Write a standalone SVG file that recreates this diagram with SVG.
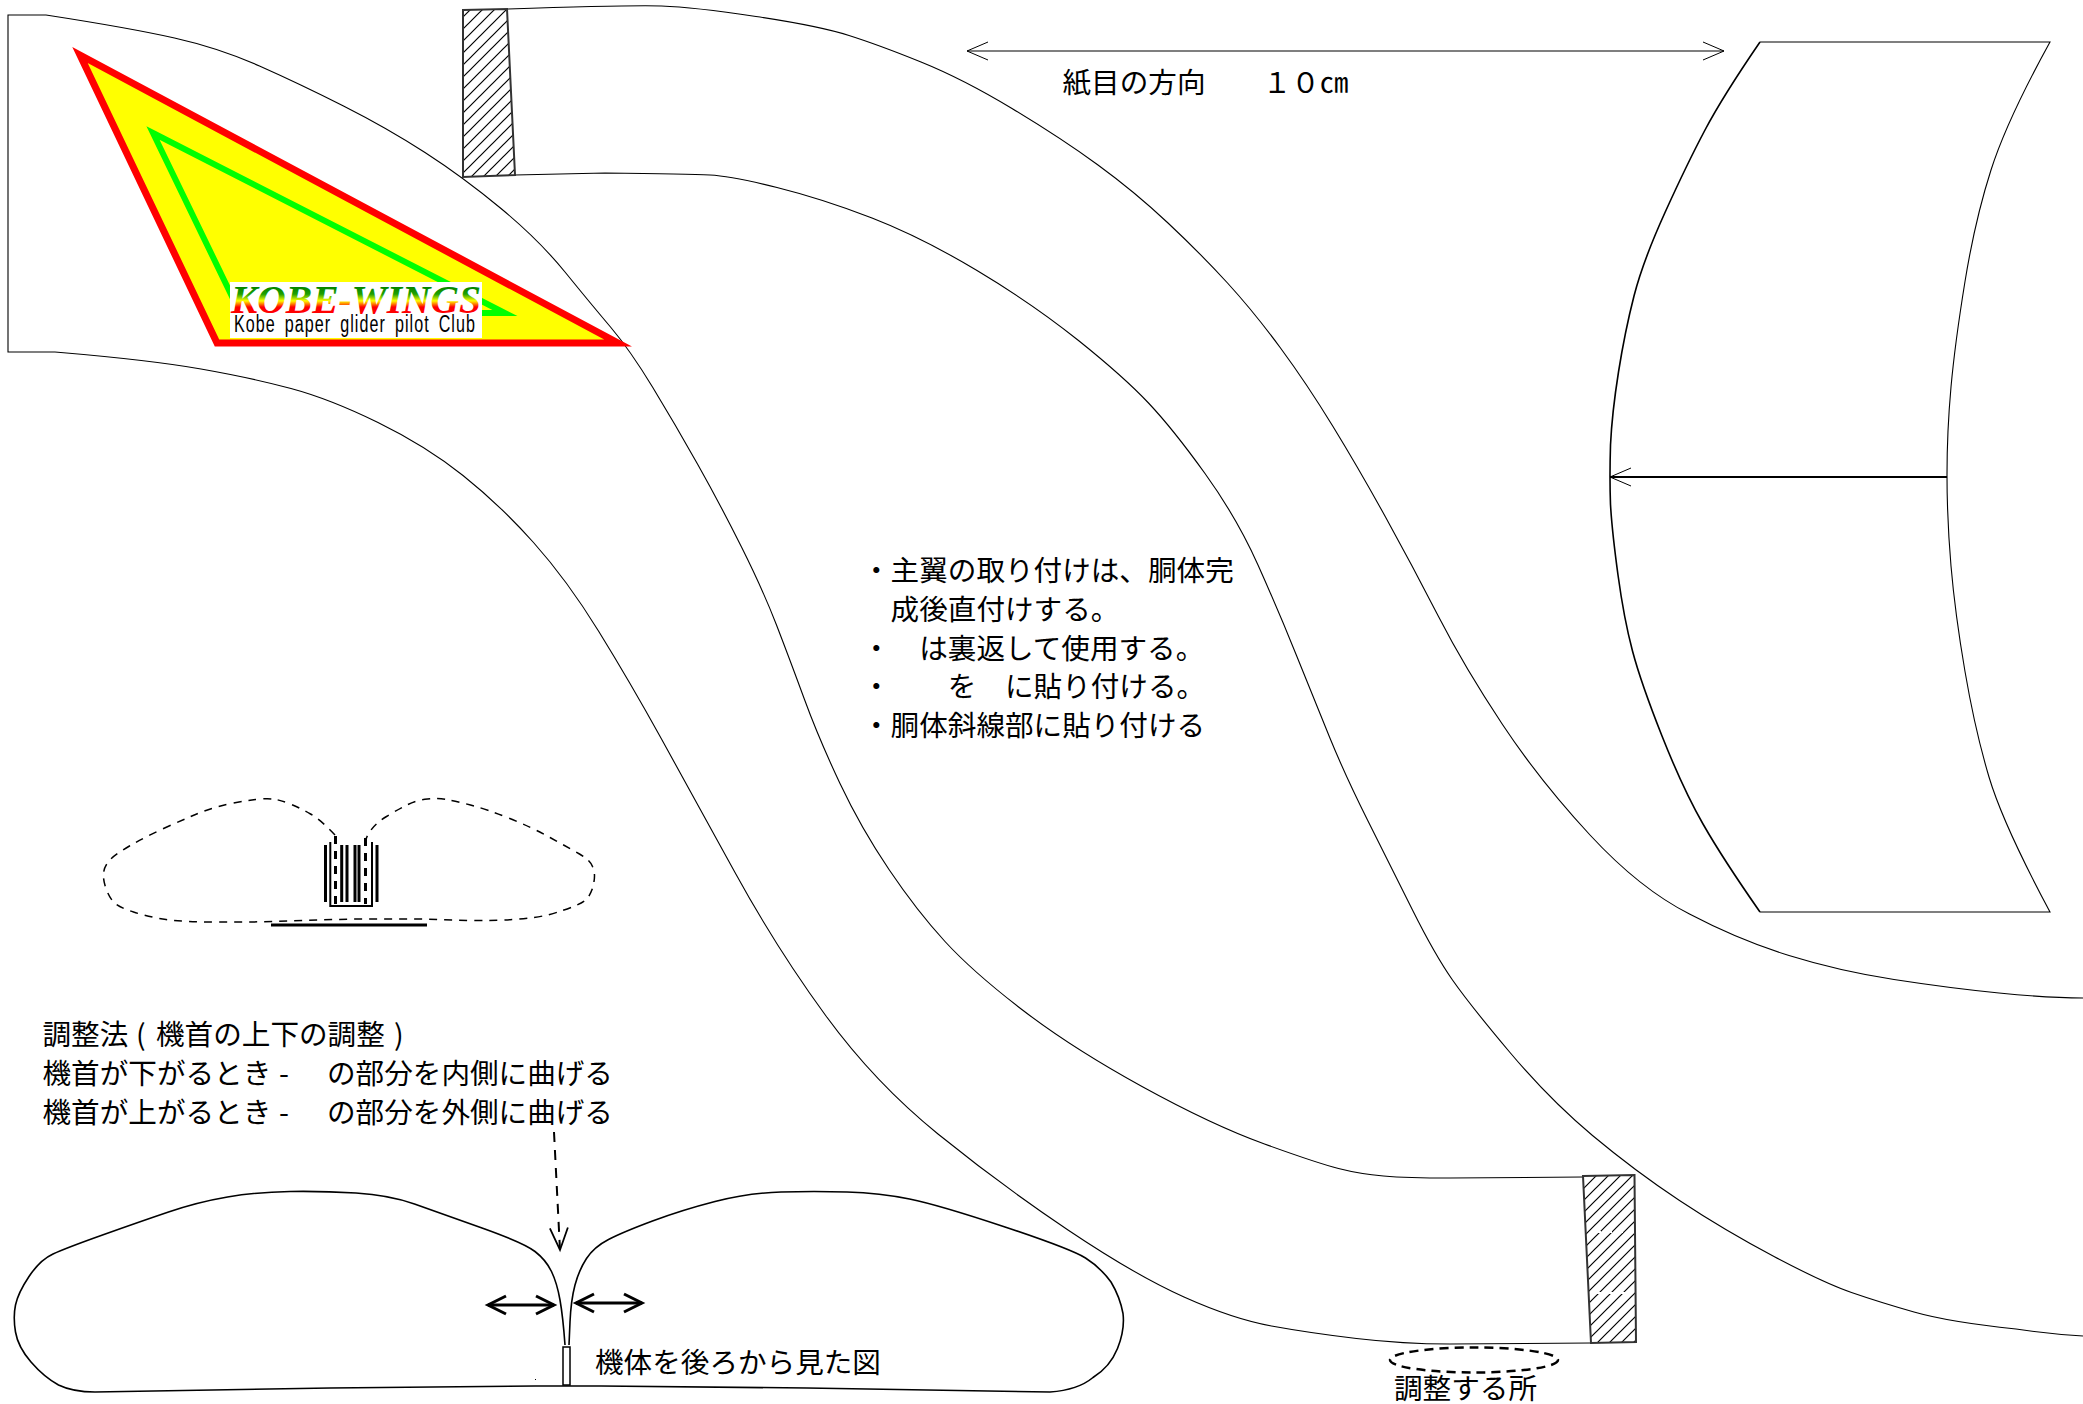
<svg xmlns="http://www.w3.org/2000/svg" width="2083" height="1404" viewBox="0 0 2083 1404">
<style>
.e{fill:none;stroke:#000;stroke-width:1.1}
.w{fill:none;stroke:#000;stroke-width:1.6}
.h{fill:url(#hatch);stroke:#333;stroke-width:2}
.t{font-family:"Noto Sans CJK JP","Noto Sans CJK SC",sans-serif;font-size:28.6px;fill:#000}
.b{fill:none;stroke:#000;stroke-width:3}
</style>
<defs>
<pattern id="hatch" patternUnits="userSpaceOnUse" width="12" height="12">
<path d="M-2 2L2 -2M-2 14L14 -2M10 14L14 10" stroke="#000" stroke-width="1.2" fill="none"/>
</pattern>
<linearGradient id="logo" gradientUnits="userSpaceOnUse" x1="0" y1="286" x2="0" y2="313">
<stop offset="0" stop-color="#008000"/><stop offset=".3" stop-color="#20a000"/><stop offset=".55" stop-color="#ffff00"/><stop offset=".78" stop-color="#ff0000"/><stop offset="1" stop-color="#ff0000"/>
</linearGradient>
<marker id="open" markerUnits="userSpaceOnUse" markerWidth="24" markerHeight="22" refX="21" refY="10" orient="auto-start-reverse"><path d="M0 1L21 10L0 19" fill="none" stroke="#000" stroke-width="1"/></marker>
<marker id="thick" markerUnits="userSpaceOnUse" markerWidth="26" markerHeight="26" refX="20" refY="12" orient="auto-start-reverse"><path d="M2 3L20 12L2 21" fill="none" stroke="#000" stroke-width="3"/></marker>
<marker id="dash" markerUnits="userSpaceOnUse" markerWidth="26" markerHeight="24" refX="23" refY="11" orient="auto"><path d="M1 2L23 11L1 20" fill="none" stroke="#000" stroke-width="1.8"/></marker>
</defs>
<rect width="2083" height="1404" fill="#fff"/>

<g id="nose-piece">
<path class="e" d="M46 15L8 15L8 352L55 352"/>
</g>

<g id="connectors">
<path id="edge-1" class="e" d="M46 15Q130 28 174.5 38Q219 48 259.5 66Q300 84 343.5 106Q387 128 425 152.5Q463 177 501 208.5Q539 240 565 272Q591 304 610.5 327Q630 350 652.5 387Q675 424 697.5 464Q720 504 741.5 547Q763 590 776.5 625Q790 660 804.5 699.5Q819 739 840 783.5Q861 828 889 869.5Q917 911 945 941.5Q973 972 1022.5 1010Q1072 1048 1142 1086.5Q1212 1125 1264.5 1144Q1317 1163 1338.5 1168.5Q1360 1174 1383.5 1176Q1407 1178 1450 1178L1583 1177"/>
<path id="edge-2" class="e" d="M55 352Q150 360 201 369Q252 378 291 388.5Q330 399 378 422.5Q426 446 463 475.5Q500 505 533.5 542.5Q567 580 598.5 631Q630 682 661.5 739Q693 796 735 872.5Q777 949 826 1016Q875 1083 938 1134Q1001 1185 1068 1230Q1135 1275 1184 1297Q1233 1319 1271.5 1326Q1310 1333 1356.5 1338.5Q1403 1344 1450 1344L1591 1343"/>
<path id="edge-3" class="e" d="M507 9Q630 5 661.5 6Q693 7 756 16.5Q819 26 849 35.5Q879 45 921 62Q963 79 1012 108.5Q1061 138 1098 165Q1135 192 1168 223Q1201 254 1227.5 283Q1254 312 1280.5 348Q1307 384 1333 426.5Q1359 469 1385.5 517Q1412 565 1438.5 616.5Q1465 668 1502.5 724.5Q1540 781 1590 835Q1640 889 1689.5 914Q1739 940 1789 955.5Q1839 971 1894 979.5Q1949 988 1999 993Q2049 998 2083 998"/>
<path id="edge-4" class="e" d="M515 175L605 173Q689 174 710 175Q731 176 777 187.5Q823 199 872 218Q921 237 977 270.5Q1033 304 1078.5 340.5Q1124 377 1148.5 403Q1173 429 1205 473.5Q1237 518 1258 565Q1279 612 1296.5 655.5Q1314 699 1329.5 737Q1345 775 1367.5 820Q1390 865 1412.5 910Q1435 955 1452.5 980Q1470 1005 1510 1052.5Q1550 1100 1592.5 1135.5Q1635 1171 1679.5 1200.5Q1724 1230 1774 1256.5Q1824 1283 1851.5 1292.5Q1879 1302 1914 1312Q1949 1322 2016 1329Q2050 1334 2083 1336"/>
<line id="grain-arrow" class="e" x1="967" y1="51" x2="1724" y2="51" marker-start="url(#open)" marker-end="url(#open)"/>
<line id="wing-arrow" x1="1947" y1="477" x2="1610" y2="477" stroke="#000" stroke-width="2" marker-end="url(#open)"/>
<line id="adjust-arrow" x1="554" y1="1132" x2="560" y2="1250" stroke="#000" stroke-width="2" stroke-dasharray="10 8" marker-end="url(#dash)"/>
<line id="bend-left" class="b" x1="488" y1="1305" x2="554" y2="1305" marker-start="url(#thick)" marker-end="url(#thick)"/>
<line id="bend-right" class="b" x1="576" y1="1303" x2="642" y2="1303" marker-start="url(#thick)" marker-end="url(#thick)"/>
</g>

<g id="tab-top">
<polygon class="h" points="463,10 507,9 515,175 463,177"/>
</g>

<g id="tab-bottom">
<polygon class="h" points="1583,1176 1634.5,1175 1636,1342 1591,1343"/>
<path d="M1593 1232H1630M1596 1293H1630" stroke="#fff" stroke-width="2" stroke-dasharray="8 3" fill="none"/>
</g>

<g id="logo-badge">
<polygon points="80,55 618,343 217,343" fill="#ffff00" stroke="#ff0000" stroke-width="7" stroke-miterlimit="10"/>
<polygon points="153,133 505,313 240,313" fill="none" stroke="#00ff00" stroke-width="6" stroke-miterlimit="10"/>
<rect x="230" y="282" width="252" height="56" fill="#fff"/>
<text x="231" y="313" font-family="Liberation Serif" font-weight="bold" font-style="italic" font-size="40" textLength="250" lengthAdjust="spacingAndGlyphs" fill="url(#logo)">KOBE-WINGS</text>
<text x="234" y="332" font-family="Liberation Sans" font-size="23" letter-spacing="1.5" word-spacing="5" textLength="242" lengthAdjust="spacingAndGlyphs" fill="#000">Kobe paper glider pilot Club</text>
</g>

<g id="wing">
<path class="w" d="M1760 42Q1723 96 1705 130Q1687 164 1665 212.5Q1643 261 1634 296Q1625 331 1618.5 372Q1612 413 1610.5 445Q1609.5 478 1610.5 504.5Q1612 531 1618 575Q1624 619 1632.5 651Q1641 683 1662 736Q1683 789 1703 824Q1723 859 1760 912"/>
<path class="e" d="M1760 42H2050Q2007 120 1991 170Q1975 220 1965 281.5Q1955 343 1951 387Q1947 431 1947 475Q1947 519 1951 566Q1955 613 1965 671.5Q1975 730 1989 777Q2003 824 2050 912H1760"/>
</g>

<g id="small-tail-view">
<path d="M335 835Q321 820 310.5 814Q300 808 291.5 804.5Q283 801 276 799.5Q269 798 255.5 799.5Q242 801 226.5 804.5Q211 808 195.5 814.5Q180 821 162.5 829Q145 837 129.5 846Q114 855 109 861Q104 867 103.5 873.5Q103 880 106 888.5Q109 897 113.5 902Q118 907 133.5 912Q149 917 166 919.5Q183 922 217.5 922L252 922L352 919L424 919L470 920.5Q520 921 548 915Q583 905 588 897.5Q593 890 594 881.5Q595.5 873 592.5 866.5Q590 860 579.5 854Q569 848 550 837.5Q531 827 508.5 818Q486 809 470.5 805Q455 801 446.5 799.5Q438 798 427.5 799Q417 800 407 805Q397 810 386.5 816.5Q376 823 371 830Q366 837 366 840" fill="none" stroke="#000" stroke-width="1.5" stroke-dasharray="8 7"/>
<path d="M325.5 845V902M341.7 845V902M347 845V902M355 845V902M359 845V902M377 845V902" fill="none" stroke="#000" stroke-width="3"/>
<path d="M330.3 842V906H372V842" fill="none" stroke="#000" stroke-width="2"/>
<path d="M335.5 836V906M365.5 838V904" fill="none" stroke="#000" stroke-width="3" stroke-dasharray="8 7"/>
<line x1="271" y1="925" x2="427" y2="925" stroke="#000" stroke-width="3"/>
</g>

<g id="rear-view">
<path class="w" d="M565 1345Q563 1317 560 1300Q557 1283 551.5 1271.5Q546 1260 535 1251.5Q524 1243 482 1228Q440 1213 414.5 1204Q389 1195 356 1193Q323 1191 290 1191.5Q257 1192 227.5 1197Q198 1202 168.5 1212Q139 1222 102.5 1235Q66 1248 53 1254Q40 1260 29 1276.5Q18 1293 15.5 1305Q13 1317 15.5 1332Q18 1347 31 1362Q44 1377 58.5 1385Q73 1392 95 1392L330 1388L535 1386L601 1386L807 1388L1050 1392Q1078 1390 1093 1377.5Q1110 1367 1117.5 1348.5Q1125 1330 1123 1313.5Q1120 1297 1111 1282Q1100 1267 1085.5 1258Q1071 1249 1005 1227Q939 1205 909.5 1199Q880 1193 847 1192Q814 1191 781 1192Q748 1193 715 1201.5Q682 1210 652.5 1221Q623 1232 608.5 1239.5Q594 1247 586.5 1258.5Q579 1270 575 1285Q571 1300 570 1322L569 1345"/>
<rect x="563" y="1347" width="7" height="38" fill="#fff" stroke="#000" stroke-width="1.5"/>
<rect x="535" y="1379" width="1" height="1" fill="#000"/>
</g>

<g id="adjust-mark">
<ellipse cx="1474" cy="1360" rx="84" ry="12.5" fill="none" stroke="#000" stroke-width="2.5" stroke-dasharray="9 6"/>
</g>

<g id="labels">
<text class="t" x="1062.5" y="93">紙目の方向　　１０㎝</text>
<text class="t" x="862" y="580.5">・主翼の取り付けは、胴体完</text>
<text class="t" x="862" y="620">　成後直付けする。</text>
<text class="t" x="862" y="658.5">・　は裏返して使用する。</text>
<text class="t" x="862" y="697">・　　を　に貼り付ける。</text>
<text class="t" x="862" y="736">・胴体斜線部に貼り付ける</text>
<text class="t" x="42.5" y="1045">調整法<tspan x="136">(</tspan><tspan x="156">機首の上下の調整</tspan><tspan x="394">)</tspan></text>
<text class="t" x="42.5" y="1084">機首が下がるとき<tspan x="279">-</tspan><tspan x="327">の部分を内側に曲げる</tspan></text>
<text class="t" x="42.5" y="1123">機首が上がるとき<tspan x="279">-</tspan><tspan x="327">の部分を外側に曲げる</tspan></text>
<text class="t" x="595" y="1373">機体を後ろから見た図</text>
<text class="t" x="1394" y="1399">調整する所</text>
</g>
</svg>
